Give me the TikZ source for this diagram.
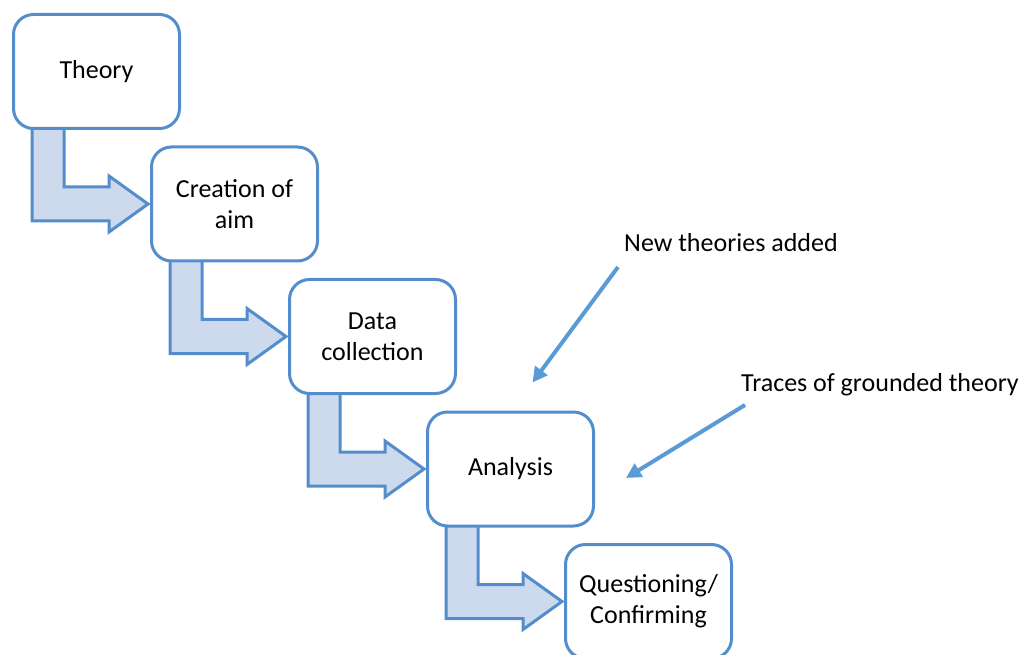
\documentclass[tikz,border=0pt]{standalone}
\usepackage{fontspec}
\setmainfont{Carlito}
\usetikzlibrary{positioning,arrows.meta,backgrounds,calc}
\definecolor{boxblue}{RGB}{84,141,204}
\definecolor{flowfill}{RGB}{205,218,238}
\definecolor{noteblue}{RGB}{91,155,213}

\begin{document}
\begin{tikzpicture}[
  x=1pt, y=1pt, font=\fontsize{26}{31}\selectfont,
  node distance=15.5pt and -31pt,
  stage/.style={draw=boxblue, line width=3pt, rounded corners=20pt, fill=white,
                minimum width=166pt, minimum height=114pt, align=center},
  flow/.style={draw=boxblue, line width=3pt, fill=flowfill, line join=miter},
  note/.style={anchor=base west, inner sep=0pt},
  pointer/.style={draw=noteblue, line width=4pt, -{Triangle[length=15pt,width=15pt]}},
]
  \useasboundingbox (0,0) rectangle (1022,654);

  \node[stage, anchor=north west] (theory) at (12,641) {Theory};
  \node[stage, below right=of theory] (aim) {Creation of\\aim};
  \node[stage, below right=of aim] (data) {Data\\collection};
  \node[stage, below right=of data] (analysis) {Analysis};
  \node[stage, below right=of analysis] (confirm) {Questioning/\\Confirming};

  % bent arrows between the stages
  \begin{scope}[on background layer]
    \foreach \from/\to in {theory/aim, aim/data, data/analysis, analysis/confirm}
      \draw[flow] ($(\from.south west)+(20,4)$) |- ($(\to.west)+(-41,-17)$)
        -- ++(0,-11) -- ($(\to.west)+(-2,0)$) -- ($(\to.west)+(-41,28)$)
        -- ++(0,-11) -| ($(\from.south west)+(52,4)$) -- cycle;
  \end{scope}

  \node[note] (newlbl) at (624,402) {New theories added};
  \node[note] (traceslbl) at (741,263) {Traces of grounded theory};

  \draw[pointer] ($(newlbl.base west)+(-6,-15)$) -- ($(analysis.north)+(22,28)$);
  \draw[pointer] ($(traceslbl.base west)+(4,-14)$) -- ($(analysis.east)+(31,-9)$);
\end{tikzpicture}
\end{document}
